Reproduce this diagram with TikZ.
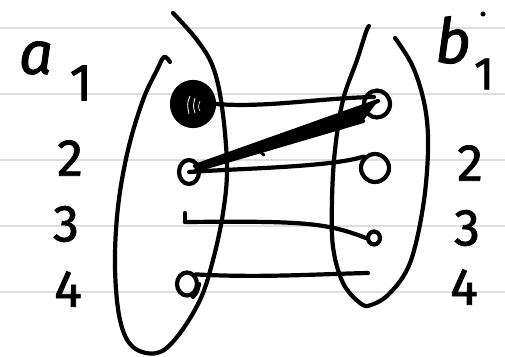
\documentclass[tikz,border=0pt]{standalone}
\usepackage{fontspec}
\setmainfont{Fira Sans}[FakeBold=1.5]
\usetikzlibrary{shapes.geometric,calc}
\begin{document}
\begin{tikzpicture}[x=1pt,y=-1pt,
  ink/.style={line width=4.2pt, line cap=round, line join=round},
  rule/.style={line width=2pt, draw=black!13},
  lbl/.style={font=\fontsize{52}{52}\selectfont, inner sep=0pt},
  dotnode/.style={ellipse, draw, ink, inner sep=0pt}]
\useasboundingbox (0,0) rectangle (505,356);
\fill[white] (0,0) rectangle (505,356);
\foreach \yy in {28,94,160,226,292} \draw[rule] (0,\yy) -- (505,\yy);

% labels
\node[lbl, font=\fontsize{60}{60}\selectfont\itshape] (la) at (36,58) {a};
\node[lbl] (la1) at (81,83) {1};
\node[lbl] (la2) at (70,158) {2};
\node[lbl] (la3) at (66,224) {3};
\node[lbl] (la4) at (68,289) {4};
\node[lbl, font=\fontsize{62}{62}\selectfont\itshape] (lb) at (453,40) {b};
\node[lbl, font=\fontsize{46}{46}\selectfont] (lb1) at (484,74) {1};
\node[lbl] (lb2) at (470,163) {2};
\node[lbl] (lb3) at (467,228) {3};
\node[lbl] (lb4) at (464,287) {4};
\node[circle, fill, inner sep=0pt, minimum size=5pt] (dot) at (483,14) {};

% loops
\draw[ink] plot[smooth, tension=0.6] coordinates {(173,13) (197,40) (213,67) (222,107) (227,167) (223,213) (213,260) (200,300) (177,337) (157,353) (133,347) (120,320) (115,267) (118,207) (128,150) (143,100) (157,70) (164,57) (170,62)};
\draw[ink] plot[smooth, tension=0.6] coordinates {(369,26) (366,32) (357,60) (343,100) (335,150) (332,200) (333,247) (343,283) (360,303) (371,305) (390,293) (410,263) (423,207) (428,150) (425,107) (413,67) (395,38)};

% element nodes
\node[ellipse, fill, draw, ink, minimum width=42pt, minimum height=44pt] (a1) at (193,104) {};
\draw[white, line width=0.8pt] ($(a1.center)+(-3,-8)$) .. controls ($(a1.center)+(-6,0)$) .. ($(a1.center)+(-4,10)$);
\draw[white, line width=0.8pt] ($(a1.center)+(2,-6)$) .. controls ($(a1.center)+(0,2)$) .. ($(a1.center)+(2,9)$);
\draw[white, line width=0.6pt] ($(a1.center)+(7,-3)$) .. controls ($(a1.center)+(5,3)$) .. ($(a1.center)+(7,7)$);
\node[dotnode, minimum width=20pt, minimum height=24pt] (a2) at (189,172) {};
\coordinate (a3) at (185,222);
\node[dotnode, minimum width=20pt, minimum height=23pt] (a4) at (187,284) {};
\node[dotnode, minimum width=26pt, minimum height=27pt] (b1) at (377,104) {};
\node[dotnode, minimum width=28pt, minimum height=28pt] (b2) at (375,168) {};
\node[dotnode, minimum width=12pt, minimum height=13pt] (b3) at (374,238) {};
\coordinate (b4) at (368,273);

% connectors
\draw[ink] (a1.east) .. controls (265,108) and (320,98) .. ($(b1.center)+(-3,-7)$);
\fill[ink] ($(a2.center)+(6,-6)$) -- ($(b1.center)+(1,-3)$) -- ($(b1.center)+(-14,17)$) -- ($(a2.center)+(7,-2)$) -- cycle;
\draw[ink] ($(a2.center)+(6,-6)$) -- ($(b1.center)+(1,-3)$);
\draw[ink] ($(a2.center)+(7,-2)$) -- ($(b1.center)+(-14,17)$);
\draw[ink, line width=2.8pt] (254,147) -- (264,155);
\draw[ink] (a2.center) .. controls (250,168) and (330,167) .. (b2.north west);
\draw[ink] (a3) -- ++(0,-9);
\draw[ink] (a3) .. controls (300,221) and (325,222) .. (b3.west);
\draw[ink] (a4.north east) .. controls (260,278) and (320,274) .. (b4);
\draw[ink] (a4.east) .. controls (197,292) .. (193,297);
\end{tikzpicture}
\end{document}
